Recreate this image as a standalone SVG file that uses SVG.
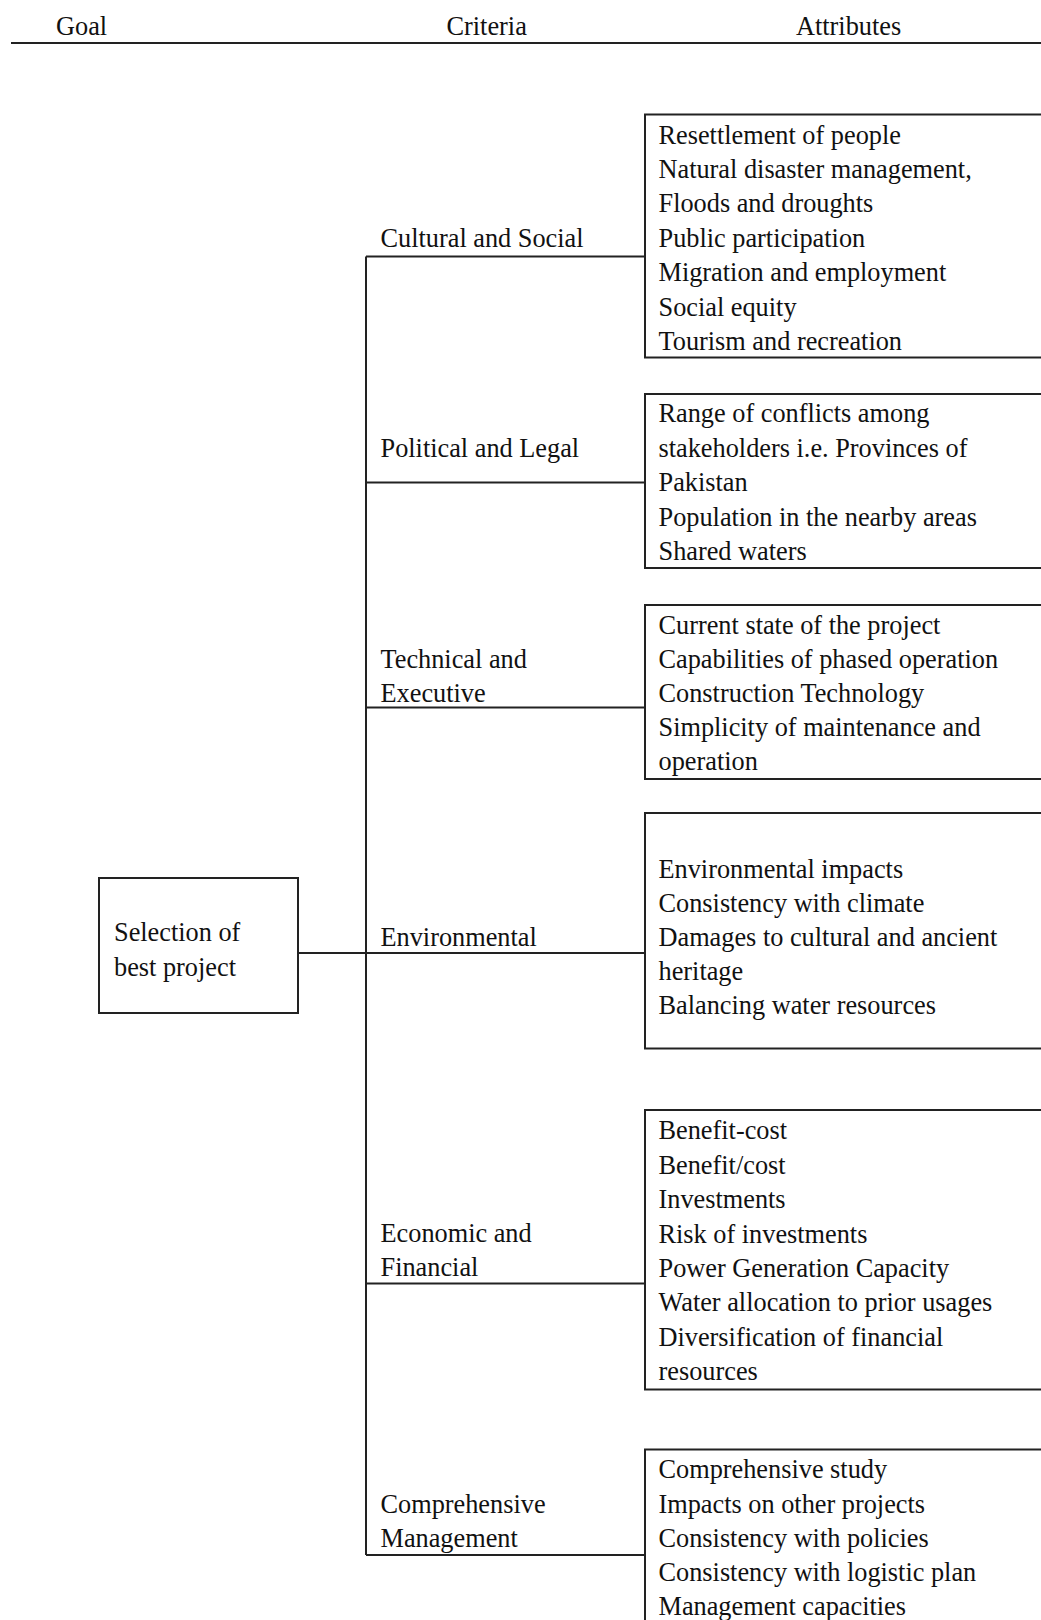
<svg xmlns="http://www.w3.org/2000/svg" width="1041" height="1620" viewBox="0 0 1041 1620">
<style>
text { font-family: "Liberation Serif", "Times New Roman", serif; font-size: 26.3px; fill: #111; }
.box { fill: #fff; stroke: #222; stroke-width: 2; }
.ln { stroke: #222; stroke-width: 2; fill: none; }
</style>
<rect x="0" y="0" width="1041" height="1620" fill="#fff"/>
<g id="header">
<text x="56" y="35">Goal</text>
<text x="446.5" y="35">Criteria</text>
<text x="796" y="35">Attributes</text>
<line class="ln" x1="11" y1="43" x2="1041" y2="43" stroke-width="2.2"/>
</g>
<g id="connectors">
<line class="ln" x1="366" y1="256.5" x2="366" y2="1555"/>
<line class="ln" x1="366" y1="256.5" x2="645" y2="256.5"/>
<line class="ln" x1="366" y1="482.5" x2="645" y2="482.5"/>
<line class="ln" x1="366" y1="707.5" x2="645" y2="707.5"/>
<line class="ln" x1="298" y1="953" x2="645" y2="953"/>
<line class="ln" x1="366" y1="1283.5" x2="645" y2="1283.5"/>
<line class="ln" x1="366" y1="1555" x2="645" y2="1555"/>
</g>
<g id="goal">
<rect class="box" x="99" y="878" width="199" height="135"/>
<text x="114" y="941">Selection of</text>
<text x="114" y="975.5">best project</text>
</g>
<g id="crit-cultural"><text x="380.5" y="247">Cultural and Social</text></g>
<g id="crit-political"><text x="380.5" y="457">Political and Legal</text></g>
<g id="crit-technical"><text x="380.5" y="667.5">Technical and</text><text x="380.5" y="701.7">Executive</text></g>
<g id="crit-environmental"><text x="380.5" y="945.5">Environmental</text></g>
<g id="crit-economic"><text x="380.5" y="1241.7">Economic and</text><text x="380.5" y="1276">Financial</text></g>
<g id="crit-comprehensive"><text x="380.5" y="1512.5">Comprehensive</text><text x="380.5" y="1547">Management</text></g>
<g id="attr-cultural">
<rect class="box" x="645" y="114.5" width="420" height="243"/>
<text x="658.5" y="143.5">Resettlement of people</text>
<text x="658.5" y="177.9">Natural disaster management,</text>
<text x="658.5" y="212.3">Floods and droughts</text>
<text x="658.5" y="246.7">Public participation</text>
<text x="658.5" y="281.1">Migration and employment</text>
<text x="658.5" y="315.5">Social equity</text>
<text x="658.5" y="349.9">Tourism and recreation</text>
</g>
<g id="attr-political">
<rect class="box" x="645" y="394" width="420" height="174"/>
<text x="658.5" y="422.3">Range of conflicts among</text>
<text x="658.5" y="456.7">stakeholders i.e. Provinces of</text>
<text x="658.5" y="491.1">Pakistan</text>
<text x="658.5" y="525.5">Population in the nearby areas</text>
<text x="658.5" y="559.9">Shared waters</text>
</g>
<g id="attr-technical">
<rect class="box" x="645" y="605" width="420" height="174"/>
<text x="658.5" y="634.3">Current state of the project</text>
<text x="658.5" y="668.3">Capabilities of phased operation</text>
<text x="658.5" y="702.3">Construction Technology</text>
<text x="658.5" y="736.3">Simplicity of maintenance and</text>
<text x="658.5" y="770.3">operation</text>
</g>
<g id="attr-environmental">
<rect class="box" x="645" y="813" width="420" height="235.5"/>
<text x="658.5" y="877.5">Environmental impacts</text>
<text x="658.5" y="911.7">Consistency with climate</text>
<text x="658.5" y="945.9">Damages to cultural and ancient</text>
<text x="658.5" y="980.1">heritage</text>
<text x="658.5" y="1014.3">Balancing water resources</text>
</g>
<g id="attr-economic">
<rect class="box" x="645" y="1110" width="420" height="279.5"/>
<text x="658.5" y="1139.3">Benefit-cost</text>
<text x="658.5" y="1173.7">Benefit/cost</text>
<text x="658.5" y="1208.1">Investments</text>
<text x="658.5" y="1242.5">Risk of investments</text>
<text x="658.5" y="1276.9">Power Generation Capacity</text>
<text x="658.5" y="1311.3">Water allocation to prior usages</text>
<text x="658.5" y="1345.7">Diversification of financial</text>
<text x="658.5" y="1380.1">resources</text>
</g>
<g id="attr-comprehensive">
<rect class="box" x="645" y="1449.5" width="420" height="200"/>
<text x="658.5" y="1478.3">Comprehensive study</text>
<text x="658.5" y="1512.5">Impacts on other projects</text>
<text x="658.5" y="1546.7">Consistency with policies</text>
<text x="658.5" y="1580.9">Consistency with logistic plan</text>
<text x="658.5" y="1615.1">Management capacities</text>
</g>
</svg>
